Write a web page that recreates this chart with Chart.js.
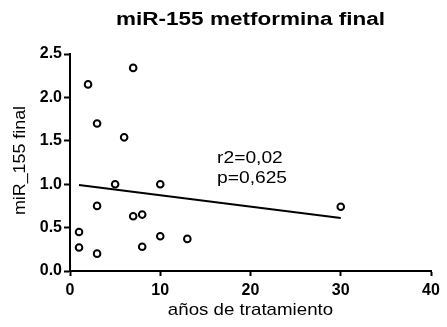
<!DOCTYPE html>
<html>
<head>
<meta charset="utf-8">
<script src="https://cdn.jsdelivr.net/npm/chart.js@4"></script>
<style>
  html, body { margin: 0; padding: 0; background: #fff; }
  #wrap { width: 447px; height: 327px; }
</style>
</head>
<body>
<div id="wrap"><canvas id="chart" width="447" height="327"></canvas></div>
<script>
'use strict';

// years of treatment vs. final miR-155 expression
const years = [2, 7, 3, 6, 5, 10, 3, 1, 1, 3, 7, 8, 8, 10, 13, 30];
const mir155 = [2.15, 2.34, 1.70, 1.54, 1.00, 1.00, 0.75, 0.45, 0.27, 0.20, 0.63, 0.65, 0.28, 0.40, 0.37, 0.74];

// linear fit, drawn between first and last year
const fitYears = [1, 30];
const fitValues = [0.99, 0.61];

const xTicks = [0, 10, 20, 30, 40];
const yTicks = [0.0, 0.5, 1.0, 1.5, 2.0, 2.5];

const chartTitle = 'miR-155 metformina final';
const xTitle = 'años de tratamiento';
const yTitle = 'miR_155 final';
const statLines = ['r2=0,02', 'p=0,625'];

const FONT = 'Arial, "Liberation Sans", Helvetica, sans-serif';

// text drawn a little wider, like the exported figure
function wideText(ctx, text, x, y, font, stretch, align) {
  ctx.save();
  ctx.font = font;
  ctx.fillStyle = '#000';
  ctx.textBaseline = 'middle';
  ctx.textAlign = 'left';
  const w = ctx.measureText(text).width * stretch;
  let left = x;
  if (align === 'center') left = x - w / 2;
  ctx.translate(left, y);
  ctx.scale(stretch, 1);
  ctx.fillText(text, 0, 0);
  ctx.restore();
}

const labelsPlugin = {
  id: 'labels',
  afterDraw(chart) {
    const { ctx, chartArea, scales } = chart;
    const cx = (chartArea.left + chartArea.right) / 2;
    wideText(ctx, chartTitle, cx, 20, 'bold 18px ' + FONT, 1.25, 'center');
    wideText(ctx, xTitle, cx, 310, '17px ' + FONT, 1.1, 'center');

    ctx.save();
    ctx.translate(20, (chartArea.top + chartArea.bottom) / 2 - 2);
    ctx.rotate(-Math.PI / 2);
    wideText(ctx, yTitle, 0, 0, '17px ' + FONT, 1.05, 'center');
    ctx.restore();

    const sx = scales.x.getPixelForValue(16.3);
    const sy = scales.y.getPixelForValue(1.3);
    statLines.forEach((line, i) => {
      wideText(ctx, line, sx, sy + i * 20, '16px ' + FONT, 1.2, 'left');
    });
  }
};

const ctx = document.getElementById('chart').getContext('2d');
new Chart(ctx, {
  type: 'scatter',
  data: {
    datasets: [
      {
        label: 'miR-155',
        data: years.map((x, i) => ({ x, y: mir155[i] })),
        pointStyle: 'circle',
        pointRadius: 3.3,
        pointBorderWidth: 2,
        pointBorderColor: '#000',
        pointBackgroundColor: '#fff',
        showLine: false,
      },
      {
        label: 'fit',
        data: fitYears.map((x, i) => ({ x, y: fitValues[i] })),
        showLine: true,
        borderColor: '#000',
        borderWidth: 2,
        pointRadius: 0,
      },
    ],
  },
  options: {
    responsive: false,
    animation: false,
    events: [],
    layout: { padding: { top: 54, right: 16, left: 0, bottom: 0 } },
    plugins: {
      legend: { display: false },
      title: { display: false },
      tooltip: { enabled: false },
    },
    scales: {
      x: {
        type: 'linear',
        min: 0,
        max: 40,
        afterFit: s => { s.height = 56; },
        afterBuildTicks: s => { s.ticks = xTicks.map(v => ({ value: v })); },
        border: { display: true, color: '#000', width: 2 },
        grid: { drawOnChartArea: false, drawTicks: true, tickLength: 5, tickWidth: 2, tickColor: '#000' },
        ticks: {
          color: '#000',
          padding: 5,
          maxRotation: 0,
          font: { family: FONT, size: 16, weight: 'bold' },
        },
      },
      y: {
        type: 'linear',
        min: 0,
        max: 2.5,
        afterFit: s => { s.width = 70; },
        afterBuildTicks: s => { s.ticks = yTicks.map(v => ({ value: v })); },
        border: { display: true, color: '#000', width: 2 },
        grid: { drawOnChartArea: false, drawTicks: true, tickLength: 6, tickWidth: 2, tickColor: '#000' },
        ticks: {
          color: '#000',
          padding: 2,
          font: { family: FONT, size: 16, weight: 'bold' },
          callback: v => v.toFixed(1),
        },
      },
    },
  },
  plugins: [labelsPlugin],
});
</script>
</body>
</html>
